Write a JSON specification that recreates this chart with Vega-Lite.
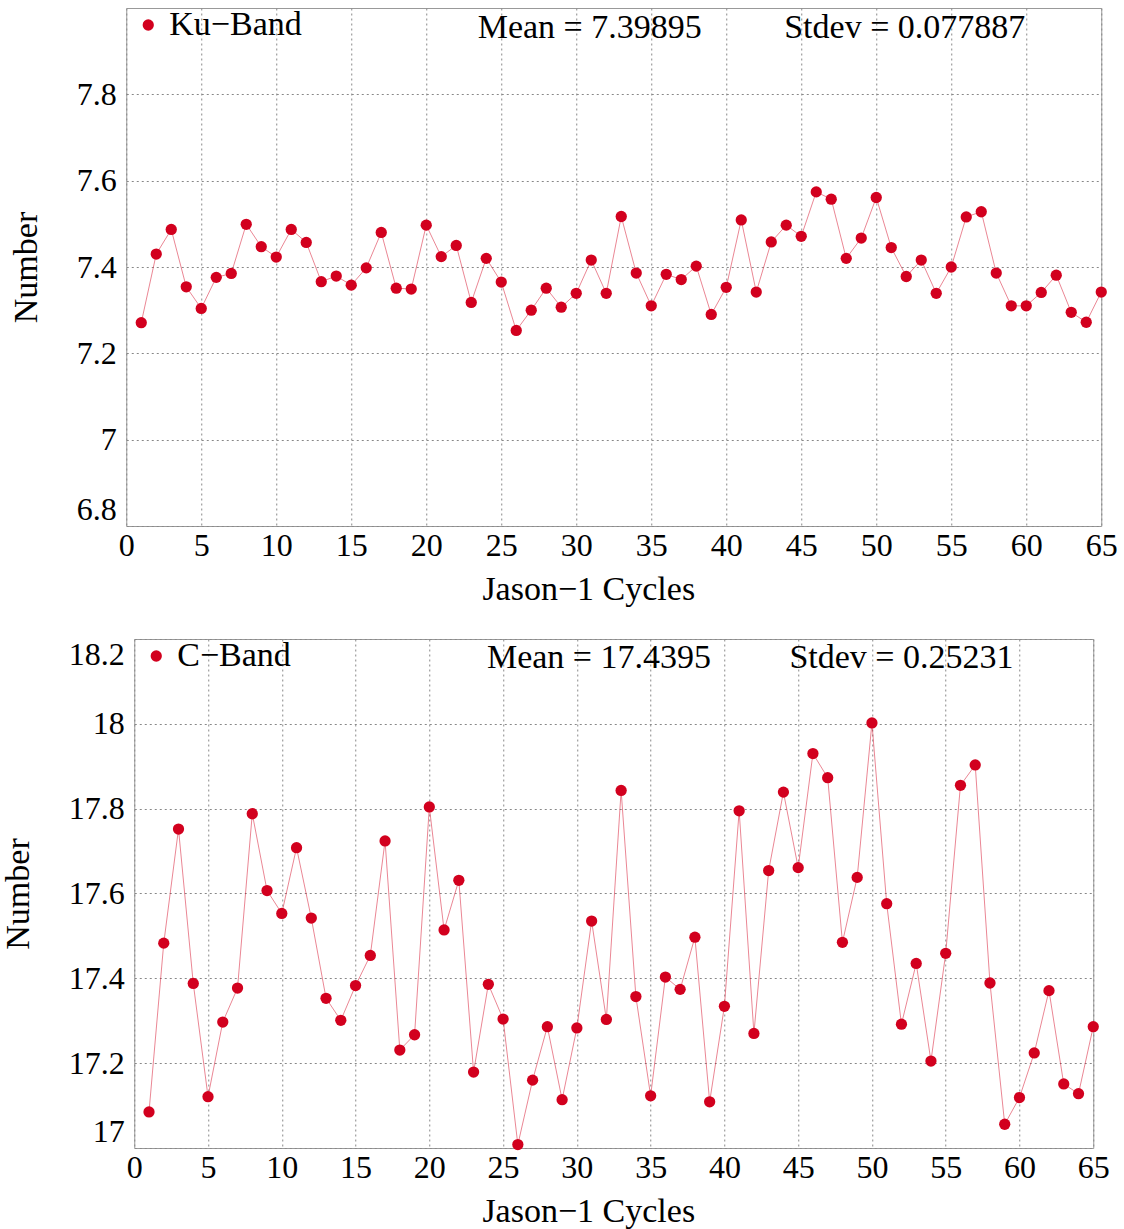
{
  "$schema": "https://vega.github.io/schema/vega-lite/v6.json",
  "padding": {"left": 0, "top": 7, "right": 0, "bottom": 0},
  "vconcat": [
    {
      "width": 975,
      "height": 518,
      "layer": [
        {
          "data": {"name": "ku"},
          "mark": {"type": "line", "color": "#d2001e", "strokeWidth": 0.8, "opacity": 0.6},
          "encoding": {
            "x": {"field": "cycle", "type": "quantitative", "scale": {"domain": [0, 65], "nice": false, "zero": false},
              "axis": {"title": "Jason−1 Cycles", "values": [0, 5, 10, 15, 20, 25, 30, 35, 40, 45, 50, 55, 60, 65], "titleX": 462}},
            "y": {"field": "value", "type": "quantitative", "scale": {"domain": [6.8, 8.0], "nice": false, "zero": false},
              "axis": {"title": "Number", "values": [6.8, 7, 7.2, 7.4, 7.6, 7.8], "format": "~g"}}
          }
        },
        {
          "data": {"name": "ku"},
          "mark": {"type": "point", "filled": true, "size": 127, "opacity": 1},
          "encoding": {
            "x": {"field": "cycle", "type": "quantitative"},
            "y": {"field": "value", "type": "quantitative"},
            "color": {"field": "band", "type": "nominal", "scale": {"range": ["#d2001e"]},
              "legend": {"title": null, "orient": "top-left", "offset": 0, "padding": 0, "symbolOffset": 5}}
          }
        },
        {
          "data": {"name": "ku_notes"},
          "mark": {"type": "text", "font": "Liberation Serif", "fontSize": 34, "align": "center", "baseline": "middle", "color": "black"},
          "encoding": {
            "x": {"field": "cycle", "type": "quantitative"},
            "y": {"field": "value", "type": "quantitative"},
            "text": {"field": "label", "type": "nominal"}
          }
        }
      ]
    },
    {
      "width": 959,
      "height": 509,
      "layer": [
        {
          "data": {"name": "c"},
          "mark": {"type": "line", "color": "#d2001e", "strokeWidth": 0.8, "opacity": 0.6},
          "encoding": {
            "x": {"field": "cycle", "type": "quantitative", "scale": {"domain": [0, 65], "nice": false, "zero": false},
              "axis": {"title": "Jason−1 Cycles", "values": [0, 5, 10, 15, 20, 25, 30, 35, 40, 45, 50, 55, 60, 65], "titleX": 454}},
            "y": {"field": "value", "type": "quantitative", "scale": {"domain": [17, 18.2], "nice": false, "zero": false},
              "axis": {"title": "Number", "values": [17, 17.2, 17.4, 17.6, 17.8, 18, 18.2], "format": "~g"}}
          }
        },
        {
          "data": {"name": "c"},
          "mark": {"type": "point", "filled": true, "size": 127, "opacity": 1},
          "encoding": {
            "x": {"field": "cycle", "type": "quantitative"},
            "y": {"field": "value", "type": "quantitative"},
            "color": {"field": "band", "type": "nominal", "scale": {"range": ["#d2001e"]},
              "legend": {"title": null, "orient": "top-left", "offset": 0, "padding": 0, "symbolOffset": 5}}
          }
        },
        {
          "data": {"name": "c_notes"},
          "mark": {"type": "text", "font": "Liberation Serif", "fontSize": 34, "align": "center", "baseline": "middle", "color": "black"},
          "encoding": {
            "x": {"field": "cycle", "type": "quantitative"},
            "y": {"field": "value", "type": "quantitative"},
            "text": {"field": "label", "type": "nominal"}
          }
        }
      ]
    }
  ],
  "center": true,
  "spacing": 30,
  "resolve": {"scale": {"color": "independent"}, "legend": {"color": "independent"}},
  "datasets": {
    "ku": [
      {"cycle": 1, "value": 7.271, "band": "Ku−Band"},
      {"cycle": 2, "value": 7.430, "band": "Ku−Band"},
      {"cycle": 3, "value": 7.487, "band": "Ku−Band"},
      {"cycle": 4, "value": 7.354, "band": "Ku−Band"},
      {"cycle": 5, "value": 7.304, "band": "Ku−Band"},
      {"cycle": 6, "value": 7.376, "band": "Ku−Band"},
      {"cycle": 7, "value": 7.385, "band": "Ku−Band"},
      {"cycle": 8, "value": 7.499, "band": "Ku−Band"},
      {"cycle": 9, "value": 7.447, "band": "Ku−Band"},
      {"cycle": 10, "value": 7.423, "band": "Ku−Band"},
      {"cycle": 11, "value": 7.487, "band": "Ku−Band"},
      {"cycle": 12, "value": 7.457, "band": "Ku−Band"},
      {"cycle": 13, "value": 7.366, "band": "Ku−Band"},
      {"cycle": 14, "value": 7.379, "band": "Ku−Band"},
      {"cycle": 15, "value": 7.358, "band": "Ku−Band"},
      {"cycle": 16, "value": 7.398, "band": "Ku−Band"},
      {"cycle": 17, "value": 7.480, "band": "Ku−Band"},
      {"cycle": 18, "value": 7.351, "band": "Ku−Band"},
      {"cycle": 19, "value": 7.349, "band": "Ku−Band"},
      {"cycle": 20, "value": 7.497, "band": "Ku−Band"},
      {"cycle": 21, "value": 7.424, "band": "Ku−Band"},
      {"cycle": 22, "value": 7.450, "band": "Ku−Band"},
      {"cycle": 23, "value": 7.318, "band": "Ku−Band"},
      {"cycle": 24, "value": 7.420, "band": "Ku−Band"},
      {"cycle": 25, "value": 7.365, "band": "Ku−Band"},
      {"cycle": 26, "value": 7.253, "band": "Ku−Band"},
      {"cycle": 27, "value": 7.300, "band": "Ku−Band"},
      {"cycle": 28, "value": 7.351, "band": "Ku−Band"},
      {"cycle": 29, "value": 7.307, "band": "Ku−Band"},
      {"cycle": 30, "value": 7.339, "band": "Ku−Band"},
      {"cycle": 31, "value": 7.416, "band": "Ku−Band"},
      {"cycle": 32, "value": 7.339, "band": "Ku−Band"},
      {"cycle": 33, "value": 7.517, "band": "Ku−Band"},
      {"cycle": 34, "value": 7.386, "band": "Ku−Band"},
      {"cycle": 35, "value": 7.310, "band": "Ku−Band"},
      {"cycle": 36, "value": 7.383, "band": "Ku−Band"},
      {"cycle": 37, "value": 7.371, "band": "Ku−Band"},
      {"cycle": 38, "value": 7.402, "band": "Ku−Band"},
      {"cycle": 39, "value": 7.290, "band": "Ku−Band"},
      {"cycle": 40, "value": 7.353, "band": "Ku−Band"},
      {"cycle": 41, "value": 7.509, "band": "Ku−Band"},
      {"cycle": 42, "value": 7.342, "band": "Ku−Band"},
      {"cycle": 43, "value": 7.458, "band": "Ku−Band"},
      {"cycle": 44, "value": 7.497, "band": "Ku−Band"},
      {"cycle": 45, "value": 7.471, "band": "Ku−Band"},
      {"cycle": 46, "value": 7.574, "band": "Ku−Band"},
      {"cycle": 47, "value": 7.557, "band": "Ku−Band"},
      {"cycle": 48, "value": 7.420, "band": "Ku−Band"},
      {"cycle": 49, "value": 7.467, "band": "Ku−Band"},
      {"cycle": 50, "value": 7.561, "band": "Ku−Band"},
      {"cycle": 51, "value": 7.445, "band": "Ku−Band"},
      {"cycle": 52, "value": 7.378, "band": "Ku−Band"},
      {"cycle": 53, "value": 7.416, "band": "Ku−Band"},
      {"cycle": 54, "value": 7.339, "band": "Ku−Band"},
      {"cycle": 55, "value": 7.400, "band": "Ku−Band"},
      {"cycle": 56, "value": 7.516, "band": "Ku−Band"},
      {"cycle": 57, "value": 7.528, "band": "Ku−Band"},
      {"cycle": 58, "value": 7.386, "band": "Ku−Band"},
      {"cycle": 59, "value": 7.310, "band": "Ku−Band"},
      {"cycle": 60, "value": 7.310, "band": "Ku−Band"},
      {"cycle": 61, "value": 7.341, "band": "Ku−Band"},
      {"cycle": 62, "value": 7.381, "band": "Ku−Band"},
      {"cycle": 63, "value": 7.295, "band": "Ku−Band"},
      {"cycle": 64, "value": 7.272, "band": "Ku−Band"},
      {"cycle": 65, "value": 7.342, "band": "Ku−Band"}
    ],
    "c": [
      {"cycle": 1, "value": 17.085, "band": "C−Band"},
      {"cycle": 2, "value": 17.483, "band": "C−Band"},
      {"cycle": 3, "value": 17.752, "band": "C−Band"},
      {"cycle": 4, "value": 17.388, "band": "C−Band"},
      {"cycle": 5, "value": 17.121, "band": "C−Band"},
      {"cycle": 6, "value": 17.297, "band": "C−Band"},
      {"cycle": 7, "value": 17.377, "band": "C−Band"},
      {"cycle": 8, "value": 17.788, "band": "C−Band"},
      {"cycle": 9, "value": 17.607, "band": "C−Band"},
      {"cycle": 10, "value": 17.553, "band": "C−Band"},
      {"cycle": 11, "value": 17.708, "band": "C−Band"},
      {"cycle": 12, "value": 17.542, "band": "C−Band"},
      {"cycle": 13, "value": 17.353, "band": "C−Band"},
      {"cycle": 14, "value": 17.301, "band": "C−Band"},
      {"cycle": 15, "value": 17.383, "band": "C−Band"},
      {"cycle": 16, "value": 17.454, "band": "C−Band"},
      {"cycle": 17, "value": 17.724, "band": "C−Band"},
      {"cycle": 18, "value": 17.231, "band": "C−Band"},
      {"cycle": 19, "value": 17.267, "band": "C−Band"},
      {"cycle": 20, "value": 17.804, "band": "C−Band"},
      {"cycle": 21, "value": 17.514, "band": "C−Band"},
      {"cycle": 22, "value": 17.631, "band": "C−Band"},
      {"cycle": 23, "value": 17.179, "band": "C−Band"},
      {"cycle": 24, "value": 17.386, "band": "C−Band"},
      {"cycle": 25, "value": 17.304, "band": "C−Band"},
      {"cycle": 26, "value": 17.008, "band": "C−Band"},
      {"cycle": 27, "value": 17.160, "band": "C−Band"},
      {"cycle": 28, "value": 17.286, "band": "C−Band"},
      {"cycle": 29, "value": 17.114, "band": "C−Band"},
      {"cycle": 30, "value": 17.283, "band": "C−Band"},
      {"cycle": 31, "value": 17.535, "band": "C−Band"},
      {"cycle": 32, "value": 17.303, "band": "C−Band"},
      {"cycle": 33, "value": 17.843, "band": "C−Band"},
      {"cycle": 34, "value": 17.357, "band": "C−Band"},
      {"cycle": 35, "value": 17.123, "band": "C−Band"},
      {"cycle": 36, "value": 17.403, "band": "C−Band"},
      {"cycle": 37, "value": 17.374, "band": "C−Band"},
      {"cycle": 38, "value": 17.497, "band": "C−Band"},
      {"cycle": 39, "value": 17.109, "band": "C−Band"},
      {"cycle": 40, "value": 17.334, "band": "C−Band"},
      {"cycle": 41, "value": 17.795, "band": "C−Band"},
      {"cycle": 42, "value": 17.270, "band": "C−Band"},
      {"cycle": 43, "value": 17.654, "band": "C−Band"},
      {"cycle": 44, "value": 17.839, "band": "C−Band"},
      {"cycle": 45, "value": 17.661, "band": "C−Band"},
      {"cycle": 46, "value": 17.930, "band": "C−Band"},
      {"cycle": 47, "value": 17.873, "band": "C−Band"},
      {"cycle": 48, "value": 17.485, "band": "C−Band"},
      {"cycle": 49, "value": 17.638, "band": "C−Band"},
      {"cycle": 50, "value": 18.002, "band": "C−Band"},
      {"cycle": 51, "value": 17.576, "band": "C−Band"},
      {"cycle": 52, "value": 17.292, "band": "C−Band"},
      {"cycle": 53, "value": 17.435, "band": "C−Band"},
      {"cycle": 54, "value": 17.205, "band": "C−Band"},
      {"cycle": 55, "value": 17.459, "band": "C−Band"},
      {"cycle": 56, "value": 17.855, "band": "C−Band"},
      {"cycle": 57, "value": 17.903, "band": "C−Band"},
      {"cycle": 58, "value": 17.389, "band": "C−Band"},
      {"cycle": 59, "value": 17.056, "band": "C−Band"},
      {"cycle": 60, "value": 17.119, "band": "C−Band"},
      {"cycle": 61, "value": 17.224, "band": "C−Band"},
      {"cycle": 62, "value": 17.371, "band": "C−Band"},
      {"cycle": 63, "value": 17.151, "band": "C−Band"},
      {"cycle": 64, "value": 17.128, "band": "C−Band"},
      {"cycle": 65, "value": 17.286, "band": "C−Band"}
    ],
    "ku_notes": [
      {"cycle": 30.9, "value": 7.953, "label": "Mean = 7.39895"},
      {"cycle": 51.9, "value": 7.953, "label": "Stdev = 0.077887"}
    ],
    "c_notes": [
      {"cycle": 31.5, "value": 18.155, "label": "Mean = 17.4395"},
      {"cycle": 52.0, "value": 18.155, "label": "Stdev = 0.25231"}
    ]
  },
  "config": {
    "view": {"stroke": "#999999", "strokeWidth": 1},
    "axis": {
      "labelFont": "Liberation Serif",
      "labelFontSize": 32,
      "labelColor": "black",
      "labelPadding": 4,
      "titleFont": "Liberation Serif",
      "titleFontSize": 34,
      "titleFontWeight": "normal",
      "titleColor": "black",
      "grid": true,
      "gridColor": "#888888",
      "gridDash": [2, 3],
      "gridWidth": 1,
      "domain": false,
      "ticks": false
    },
    "axisY": {"labelPadding": 10, "titlePadding": 33, "labelFlush": true},
    "axisX": {"titlePadding": 11, "labelFlush": false},
    "legend": {
      "labelFont": "Liberation Serif",
      "labelFontSize": 34,
      "labelColor": "black",
      "symbolType": "circle",
      "symbolSize": 127,
      "labelOffset": 4
    }
  }
}
